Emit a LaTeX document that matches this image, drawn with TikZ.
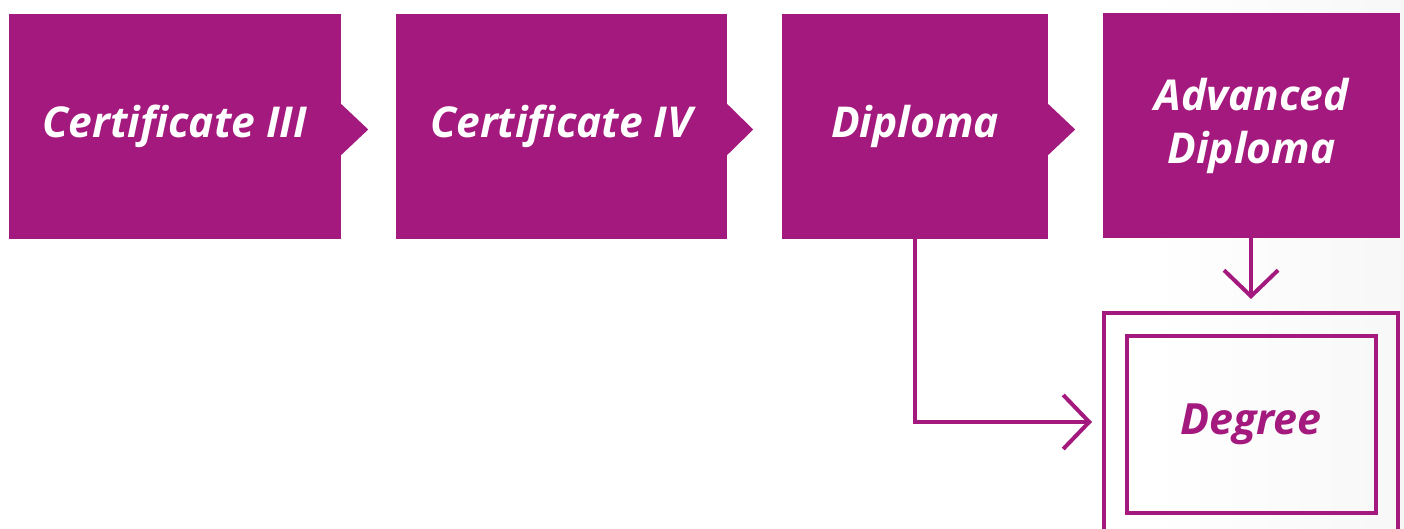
\documentclass[tikz,border=0pt]{standalone}
\usepackage{fontspec}
\setmainfont{Open Sans}
\usetikzlibrary{arrows.meta}
\definecolor{plum}{RGB}{163,25,125}
\tikzset{
  stage/.style={fill=plum, draw=none, inner sep=0pt, text=white,
    font=\fontsize{42.5}{53}\selectfont\bfseries\itshape, align=center},
  tip/.style={fill=plum, draw=none},
  conn/.style={draw=plum, line width=4pt, -{Straight Barb[length=26pt,width=54pt]}},
  frame/.style={draw=plum, line width=4.5pt, fill=none, inner sep=0pt},
  degtext/.style={text=plum, font=\fontsize{43}{53}\selectfont\bfseries\itshape}
}
\begin{document}
\begin{tikzpicture}[x=1pt,y=-1pt]
\useasboundingbox (0,0) rectangle (1404,529);
\shade[left color=white, right color=black!3] (1150,0) rectangle (1404,529);
\begin{scope}
\clip (0,0) rectangle (1404,529);
\node[stage, minimum width=332pt, minimum height=225pt] (c3) at (175,126.5) {Certificate III};
\node[stage, minimum width=331pt, minimum height=225pt] (c4) at (561.5,126.5) {Certificate IV};
\node[stage, minimum width=266pt, minimum height=225pt] (dip) at (915,126.5) {Diploma};
\node[stage, minimum width=297pt, minimum height=225pt] (adv) at (1251.5,125.5) {Advanced\\Diploma};
\fill[tip] ([yshift=-3pt]c3.east) ++(0,-25.5) -- ++(27,25.5) -- ++(-27,25.5) -- cycle;
\fill[tip] ([yshift=-3pt]c4.east) ++(0,-25.5) -- ++(26,25.5) -- ++(-26,25.5) -- cycle;
\fill[tip] ([yshift=-3pt]dip.east) ++(0,-25.5) -- ++(27,25.5) -- ++(-27,25.5) -- cycle;
\node[frame, minimum width=294pt, minimum height=232pt] (deg) at (1251,429) {};
\node[frame, minimum width=249pt, minimum height=177pt] (inner) at (1251.5,424.5) {};
\node[degtext] (degt) at (1251,424) {Degree};
\coordinate (degin) at (1092,422);
\coordinate (degtop) at (1251,299);
\draw[conn] (dip.south) |- (degin);
\draw[conn] (adv.south -| degtop) -- (degtop);
\end{scope}
\end{tikzpicture}
\end{document}
